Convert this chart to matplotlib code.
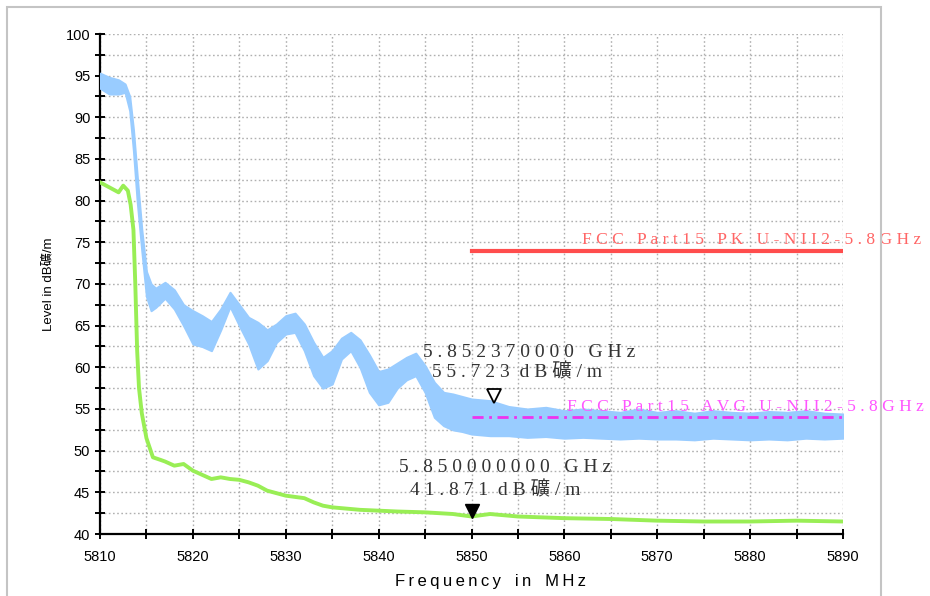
import matplotlib.pyplot as plt
from matplotlib.ticker import MultipleLocator
from matplotlib.patches import Rectangle
from matplotlib.transforms import ScaledTranslation

# Peak trace (blue) read as a low/high envelope of the noisy sweep
freq_pk = [5810, 5811, 5812, 5812.7, 5813.2, 5813.6, 5814, 5814.5, 5815, 5815.5,
           5816, 5817, 5818, 5819, 5820, 5821, 5822, 5823, 5824, 5825,
           5826, 5827, 5828, 5829, 5830, 5831, 5832, 5833, 5834, 5835,
           5836, 5837, 5838, 5839, 5840, 5841, 5842, 5843, 5844, 5845,
           5846, 5847, 5848, 5849, 5850, 5852, 5854, 5856, 5858, 5860,
           5862, 5864, 5866, 5868, 5870, 5872, 5874, 5876, 5878, 5880,
           5882, 5884, 5886, 5888, 5890]
pk_hi = [95.3, 94.8, 94.5, 94.0, 92.5, 88.5, 83.0, 76.5, 71.5, 70.0,
         69.5, 70.2, 69.3, 67.5, 66.8, 66.2, 65.5, 67.0, 69.0, 67.5,
         66.0, 65.4, 64.5, 65.2, 66.2, 66.5, 65.2, 63.0, 61.2, 62.0,
         63.5, 64.2, 63.3, 61.5, 59.5, 59.8, 60.5, 61.2, 61.7, 60.2,
         58.2, 57.0, 56.8, 56.5, 56.2, 56.0, 55.3, 55.0, 55.2, 54.8,
         55.0, 54.8, 54.6, 55.0, 54.6, 54.8, 54.5, 54.8, 54.6, 54.5,
         54.7, 54.6, 54.8, 54.5, 54.4]
pk_lo = [93.5, 92.8, 92.8, 93.0, 90.8, 86.0, 80.0, 74.0, 68.5, 66.8,
         67.2, 68.3, 67.0, 65.0, 62.8, 62.5, 62.0, 64.5, 67.3, 65.0,
         62.8, 59.8, 60.8, 63.0, 64.0, 64.2, 62.0, 59.0, 57.5, 58.0,
         61.0, 62.0, 60.0, 57.0, 55.5, 55.8, 57.5, 58.5, 59.0, 57.0,
         54.0, 53.0, 52.5, 52.3, 52.0, 51.8, 51.8, 51.6, 51.7, 51.5,
         51.6, 51.5, 51.4, 51.5, 51.4, 51.4, 51.3, 51.5, 51.4, 51.3,
         51.4, 51.3, 51.5, 51.4, 51.5]

# Average trace (green)
freq_av = [5810, 5811, 5812, 5812.5, 5813, 5813.3, 5813.6, 5813.8, 5814, 5814.2,
           5814.5, 5815, 5815.7, 5816.5, 5817, 5818, 5819, 5820, 5821, 5822,
           5823, 5824, 5825, 5826, 5827, 5828, 5830, 5832, 5833, 5834,
           5835, 5836, 5838, 5840, 5842, 5845, 5848, 5850, 5852, 5855,
           5860, 5865, 5870, 5875, 5880, 5885, 5890]
lvl_av = [82.2, 81.6, 81.0, 81.8, 81.2, 79.5, 76.5, 70.0, 62.0, 57.5,
          54.5, 51.5, 49.2, 48.9, 48.7, 48.2, 48.4, 47.6, 47.1, 46.6,
          46.8, 46.6, 46.5, 46.2, 45.8, 45.2, 44.6, 44.3, 43.8, 43.4,
          43.2, 43.1, 42.9, 42.8, 42.7, 42.6, 42.4, 42.1, 42.4, 42.1,
          41.9, 41.8, 41.6, 41.5, 41.5, 41.6, 41.5]

# Limit lines
limit_freq = [5850, 5890]
limit_pk = 74
limit_av = 54

# Markers
mk1_freq, mk1_lvl = 5852.37, 55.723
mk2_freq, mk2_lvl = 5850.0, 41.871

def spaced(s, sep=' '):
    return sep.join(s)

latin_cjk = ['Liberation Sans', 'Noto Sans CJK JP']
serif_cjk = ['Liberation Serif', 'Noto Sans CJK JP']

fig = plt.figure(figsize=(9.3, 5.96), dpi=100)
fig.patch.set_facecolor('white')
fig.patches.append(Rectangle((7 / 930, -0.05), 874 / 930, 1.0 - 7 / 596 + 0.05,
                             transform=fig.transFigure, fill=False,
                             edgecolor='#c4c4c4', linewidth=1.5))

ax = fig.add_axes([100 / 930, 1 - 534 / 596, 743 / 930, 500 / 596])
ax.set_xlim(5810, 5890)
ax.set_ylim(40, 100)

ax.fill_between(freq_pk, pk_lo, pk_hi, color='#99ccff', linewidth=1.5,
                edgecolor='#99ccff', zorder=3)
ax.plot(freq_av, lvl_av, color='#99ee55', linewidth=2.8, zorder=4)

ax.plot(limit_freq, [limit_pk] * 2, color='#ff4d4d', linewidth=3, zorder=5)
ax.plot(limit_freq, [limit_av] * 2, color='#ee33ee', linewidth=2,
        linestyle=(0, (4, 2, 1, 2)), zorder=5)

ax.text(5861.9, limit_pk + 0.35, spaced('FCC Part15 PK U-NII2-5.8GHz'),
        color='#ff6666', fontsize=12.6, family=serif_cjk, va='bottom',
        clip_on=False, zorder=6)
ax.text(5860.3, limit_av + 0.3, spaced('FCC Part15 AVG U-NII2-5.8GHz'),
        color='#ff55ff', fontsize=12.6, family=serif_cjk, va='bottom',
        clip_on=False, zorder=6)

# marker triangles sit with their apex on the data point
lift = ScaledTranslation(0, 5 / 72, fig.dpi_scale_trans)
ax.plot(mk1_freq, mk1_lvl, marker='v', markersize=10, markerfacecolor='white',
        markeredgecolor='black', markeredgewidth=1.3, linestyle='none', zorder=7,
        transform=ax.transData + lift)
ax.plot(mk2_freq, mk2_lvl, marker='v', markersize=10, color='black',
        linestyle='none', zorder=7, transform=ax.transData + lift)

txt_kw = dict(textcoords='offset points', fontsize=14, family=serif_cjk,
              color='#333333', va='center', ha='left', zorder=8)
ax.annotate(spaced('5.852370000') + '   ' + spaced('GHz'), xy=(mk1_freq, mk1_lvl),
            xytext=(-51, 36), **txt_kw)
ax.annotate(spaced('55.723') + '  ' + spaced('dB礦/m'), xy=(mk1_freq, mk1_lvl),
            xytext=(-44, 22), **txt_kw)
ax.annotate(spaced('5.850000000') + '   ' + spaced('GHz'), xy=(mk2_freq, mk2_lvl),
            xytext=(-52, 36.5), **txt_kw)
ax.annotate(spaced('41.871') + '  ' + spaced('dB礦/m'), xy=(mk2_freq, mk2_lvl),
            xytext=(-44.6, 20), **txt_kw)

# axes styling
ax.xaxis.set_major_locator(MultipleLocator(10))
ax.xaxis.set_minor_locator(MultipleLocator(5))
ax.yaxis.set_major_locator(MultipleLocator(5))
ax.yaxis.set_minor_locator(MultipleLocator(2.5))
ax.grid(True, which='both', color='#b0b0b0', linestyle=(0, (1.2, 1.8)), linewidth=1)
ax.set_axisbelow(True)
for side in ['top', 'right']:
    ax.spines[side].set_visible(False)
for side in ['left', 'bottom']:
    ax.spines[side].set_linewidth(1.6)
ax.tick_params(which='both', direction='inout', length=7, width=1.4, colors='black',
               labelsize=10.5)
ax.tick_params(axis='x', pad=8)
for lab in ax.get_xticklabels() + ax.get_yticklabels():
    lab.set_family('Liberation Sans')

ax.set_xlabel(spaced('Frequency', '\u2009') + '   ' + spaced('in', '\u2009') + '   '
              + spaced('MHz', '\u2009'),
              fontsize=12, family='Liberation Sans')
ax.xaxis.set_label_coords(0.526, -0.08)
ax.set_ylabel('Level in dB礦/m', fontsize=9.5, family=latin_cjk, labelpad=8)

plt.savefig('out.png', dpi=100)
